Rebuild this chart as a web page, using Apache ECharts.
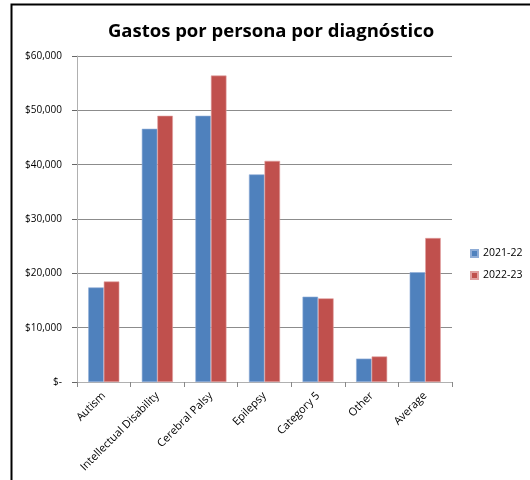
<!DOCTYPE html>
<html><head><meta charset="utf-8">
<script src="https://cdn.jsdelivr.net/npm/echarts@6/dist/echarts.min.js"></script>
<style>html,body{margin:0;padding:0;background:#fff}#c{width:530px;height:480px}</style>
</head><body><div id="c"></div>
<script>
const categories = ['Autism','Intellectual Disability','Cerebral Palsy','Epilepsy','Category 5','Other','Average'];
const series2021 = [17400, 46600, 49000, 38200, 15700, 4300, 20200];
const series2022 = [18500, 49000, 56400, 40700, 15400, 4700, 26500];
const seriesNames = ['2021-22','2022-23'];
const titleText = 'Gastos por persona por diagnóstico';

const chart = echarts.init(document.getElementById('c'), null, {renderer:'canvas'});
const font = '"Open Sans", "Noto Sans", sans-serif';
chart.setOption({
  animation:false,
  textStyle:{fontFamily:font},
  title:{text:titleText,left:266,textAlign:'center',top:17,textStyle:{fontFamily:font,fontSize:18.5,fontWeight:'bold',color:'#000'}},
  graphic:[{type:'rect',shape:{x:11.5,y:4.5,width:540,height:500},style:{fill:null,stroke:'#000',lineWidth:2},z:-1}],
  legend:{orient:'vertical',left:465,top:243,itemWidth:7,itemHeight:7,itemGap:11,itemGap:11,icon:'rect',
    textStyle:{fontFamily:font,fontSize:10.5,color:'#000'},data:seriesNames},
  grid:{left:77,right:78,top:56,bottom:98,containLabel:false},
  xAxis:{type:'category',data:categories,
    axisLine:{lineStyle:{color:'#b0b0b0',width:1}},
    axisTick:{show:true,length:5,lineStyle:{color:'#888'}},
    axisLabel:{rotate:45,fontSize:11,color:'#000',fontFamily:font,interval:0,margin:12}},
  yAxis:{type:'value',min:0,max:60000,interval:10000,
    axisLine:{show:true,lineStyle:{color:'#b0b0b0'}},
    axisTick:{show:true,length:5,lineStyle:{color:'#666'}},
    splitLine:{lineStyle:{color:'#8c8c8c',width:1}},
    axisLabel:{fontSize:10,color:'#000',fontFamily:font,margin:15,
      formatter:v=> v===0 ? '$-' : '$'+v.toLocaleString('en-US')}},
  series:[
    {name:seriesNames[0],type:'bar',data:series2021,barGap:'0%',barCategoryGap:'42%',
     itemStyle:{color:'#4f81bd',borderColor:'#8eacd6',borderWidth:0.6}},
    {name:seriesNames[1],type:'bar',data:series2022,
     itemStyle:{color:'#c0504d',borderColor:'#e0a0a0',borderWidth:0.6}}
  ]
});
</script></body></html>
